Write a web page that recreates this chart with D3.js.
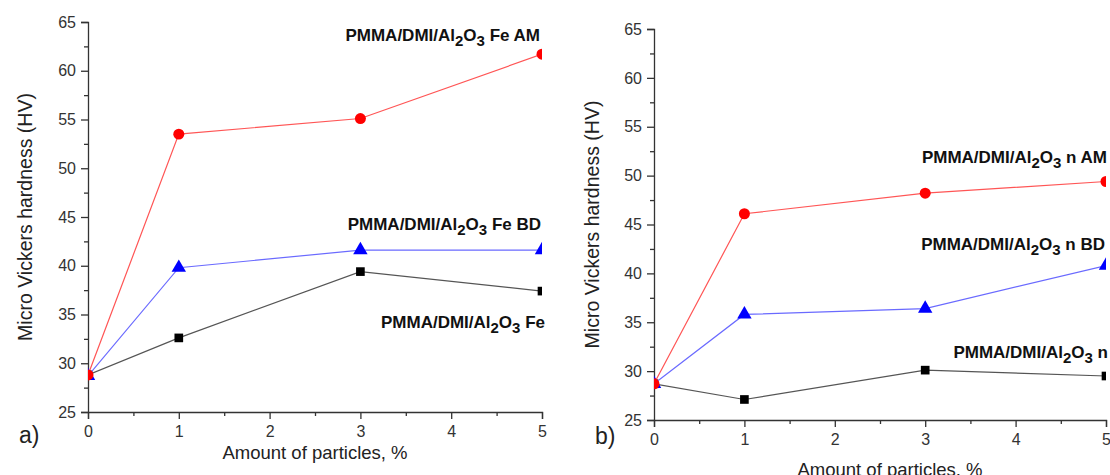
<!DOCTYPE html>
<html>
<head>
<meta charset="utf-8">
<script src="https://cdn.jsdelivr.net/npm/d3@7"></script>
<style>
  body { margin: 0; background: #fff; }
  text { font-family: "Liberation Sans", Arial, sans-serif; }
</style>
</head>
<body>
<div id="chart"></div>
<script>
// data
var amounts = [0, 1, 3, 5];
var xTicks = [0, 1, 2, 3, 4, 5];
var yTicks = [25, 30, 35, 40, 45, 50, 55, 60, 65];

// panel a) Fe particles
var feAM = [28.8, 53.5, 55.1, 61.7];
var feBD = [28.7, 39.8, 41.6, 41.6];
var fePlain = [28.8, 32.6, 39.4, 37.4];

// panel b) nano particles
var nAM = [28.7, 46.1, 48.2, 49.4];
var nBD = [28.7, 35.8, 36.4, 40.8];
var nPlain = [28.7, 27.1, 30.1, 29.5];

var labelsA = ["Fe AM", "Fe BD", "Fe"];
var labelsB = ["n AM", "n BD", "n"];

var svg = d3.select("#chart")
    .append("svg")
    .attr("width", 1110)
    .attr("height", 475);

// one panel of the figure
function drawPanel(opt) {
    var w = opt.right - opt.left;
    var h = opt.bottom - opt.top;

    var g = svg.append("g")
        .attr("transform", `translate(${opt.left}, ${opt.top})`);

    var x = d3.scaleLinear().domain([0, 5]).range([0, w]);
    var y = d3.scaleLinear().domain([25, 65]).range([h, 0]);

    g.append("clipPath").attr("id", opt.id + "clip")
        .append("rect").attr("width", w).attr("height", h);

    // minor ticks first
    g.append("g")
        .attr("transform", `translate(0, ${h})`)
        .call(d3.axisBottom(x).tickValues(d3.range(0.5, 5, 1)).tickSize(4).tickFormat(""))
        .call(a => a.select(".domain").remove());
    g.append("g")
        .call(d3.axisLeft(y).tickValues(d3.range(27.5, 65, 5)).tickSize(4).tickFormat(""))
        .call(a => a.select(".domain").remove());

    g.append("g")
        .attr("transform", `translate(0, ${h})`)
        .call(d3.axisBottom(x).tickValues(xTicks).tickFormat(d3.format("d")).tickSize(7).tickPadding(7));
    g.append("g")
        .call(d3.axisLeft(y).tickValues(yTicks).tickFormat(d3.format("d")).tickSize(7).tickPadding(5));

    g.selectAll(".tick line, .domain").attr("stroke", "#333").attr("stroke-width", 1.3);
    g.selectAll(".tick text")
        .attr("fill", "#333")
        .style("font-size", "16px")
        .style("font-family", "'Liberation Sans', Arial, sans-serif");

    var line = d3.line()
        .x((d, i) => x(amounts[i]))
        .y(d => y(d));

    var plot = g.append("g").attr("clip-path", `url(#${opt.id}clip)`);

    var series = [
        { vals: opt.plain, color: "#000000", lineColor: "#555555", shape: d3.symbolSquare, size: 75 },
        { vals: opt.bd, color: "#0000ff", lineColor: "#6a6aff", shape: d3.symbolTriangle, size: 90 },
        { vals: opt.am, color: "#ff0000", lineColor: "#ff5555", shape: d3.symbolCircle, size: 95 }
    ];

    series.forEach(function(s) {
        plot.append("path")
            .datum(s.vals)
            .attr("fill", "none")
            .attr("stroke", s.lineColor)
            .attr("stroke-width", 1.2)
            .attr("d", line);
        plot.selectAll(null)
            .data(s.vals)
            .enter()
            .append("path")
            .attr("transform", (d, i) => `translate(${x(amounts[i])}, ${y(d)})`)
            .attr("d", d3.symbol().type(s.shape).size(s.size))
            .attr("fill", s.color);
    });

    // series names, right aligned next to the lines
    opt.labels.forEach(function(lb) {
        var t = svg.append("text")
            .attr("x", lb.x)
            .attr("y", lb.y)
            .attr("text-anchor", "end")
            .style("font-size", "17px")
            .style("font-weight", "bold")
            .attr("fill", "#111");
        t.append("tspan").text("PMMA/DMI/Al");
        t.append("tspan").attr("dy", 5).style("font-size", "15px").text("2");
        t.append("tspan").attr("dy", -5).text("O");
        t.append("tspan").attr("dy", 5).style("font-size", "15px").text("3");
        t.append("tspan").attr("dy", -5).text(" " + lb.text);
    });

    // axis titles
    svg.append("text")
        .attr("transform", `translate(${opt.yTitleX}, ${opt.top + h / 2}) rotate(-90)`)
        .attr("text-anchor", "middle")
        .style("font-size", "19.5px")
        .attr("fill", "#222")
        .text("Micro Vickers hardness (HV)");

    svg.append("text")
        .attr("x", opt.xTitleX)
        .attr("y", opt.xTitleY)
        .attr("text-anchor", "middle")
        .style("font-size", "18.5px")
        .attr("fill", "#222")
        .text("Amount of particles, %");

    svg.append("text")
        .attr("x", opt.tagX)
        .attr("y", opt.tagY)
        .style("font-size", "23px")
        .attr("fill", "#222")
        .text(opt.tag);
}

drawPanel({
    id: "a", left: 88, right: 542, top: 22, bottom: 412,
    am: feAM, bd: feBD, plain: fePlain,
    labels: [
        { text: labelsA[0], x: 540, y: 41 },
        { text: labelsA[1], x: 541, y: 230 },
        { text: labelsA[2], x: 545, y: 328 }
    ],
    yTitleX: 32, xTitleX: 315, xTitleY: 459, tag: "a)", tagX: 19, tagY: 443
});

drawPanel({
    id: "b", left: 654, right: 1106, top: 29, bottom: 420,
    am: nAM, bd: nBD, plain: nPlain,
    labels: [
        { text: labelsB[0], x: 1107, y: 163 },
        { text: labelsB[1], x: 1105, y: 250 },
        { text: labelsB[2], x: 1108, y: 358 }
    ],
    yTitleX: 599, xTitleX: 890, xTitleY: 476, tag: "b)", tagX: 595, tagY: 444
});
</script>
</body>
</html>
